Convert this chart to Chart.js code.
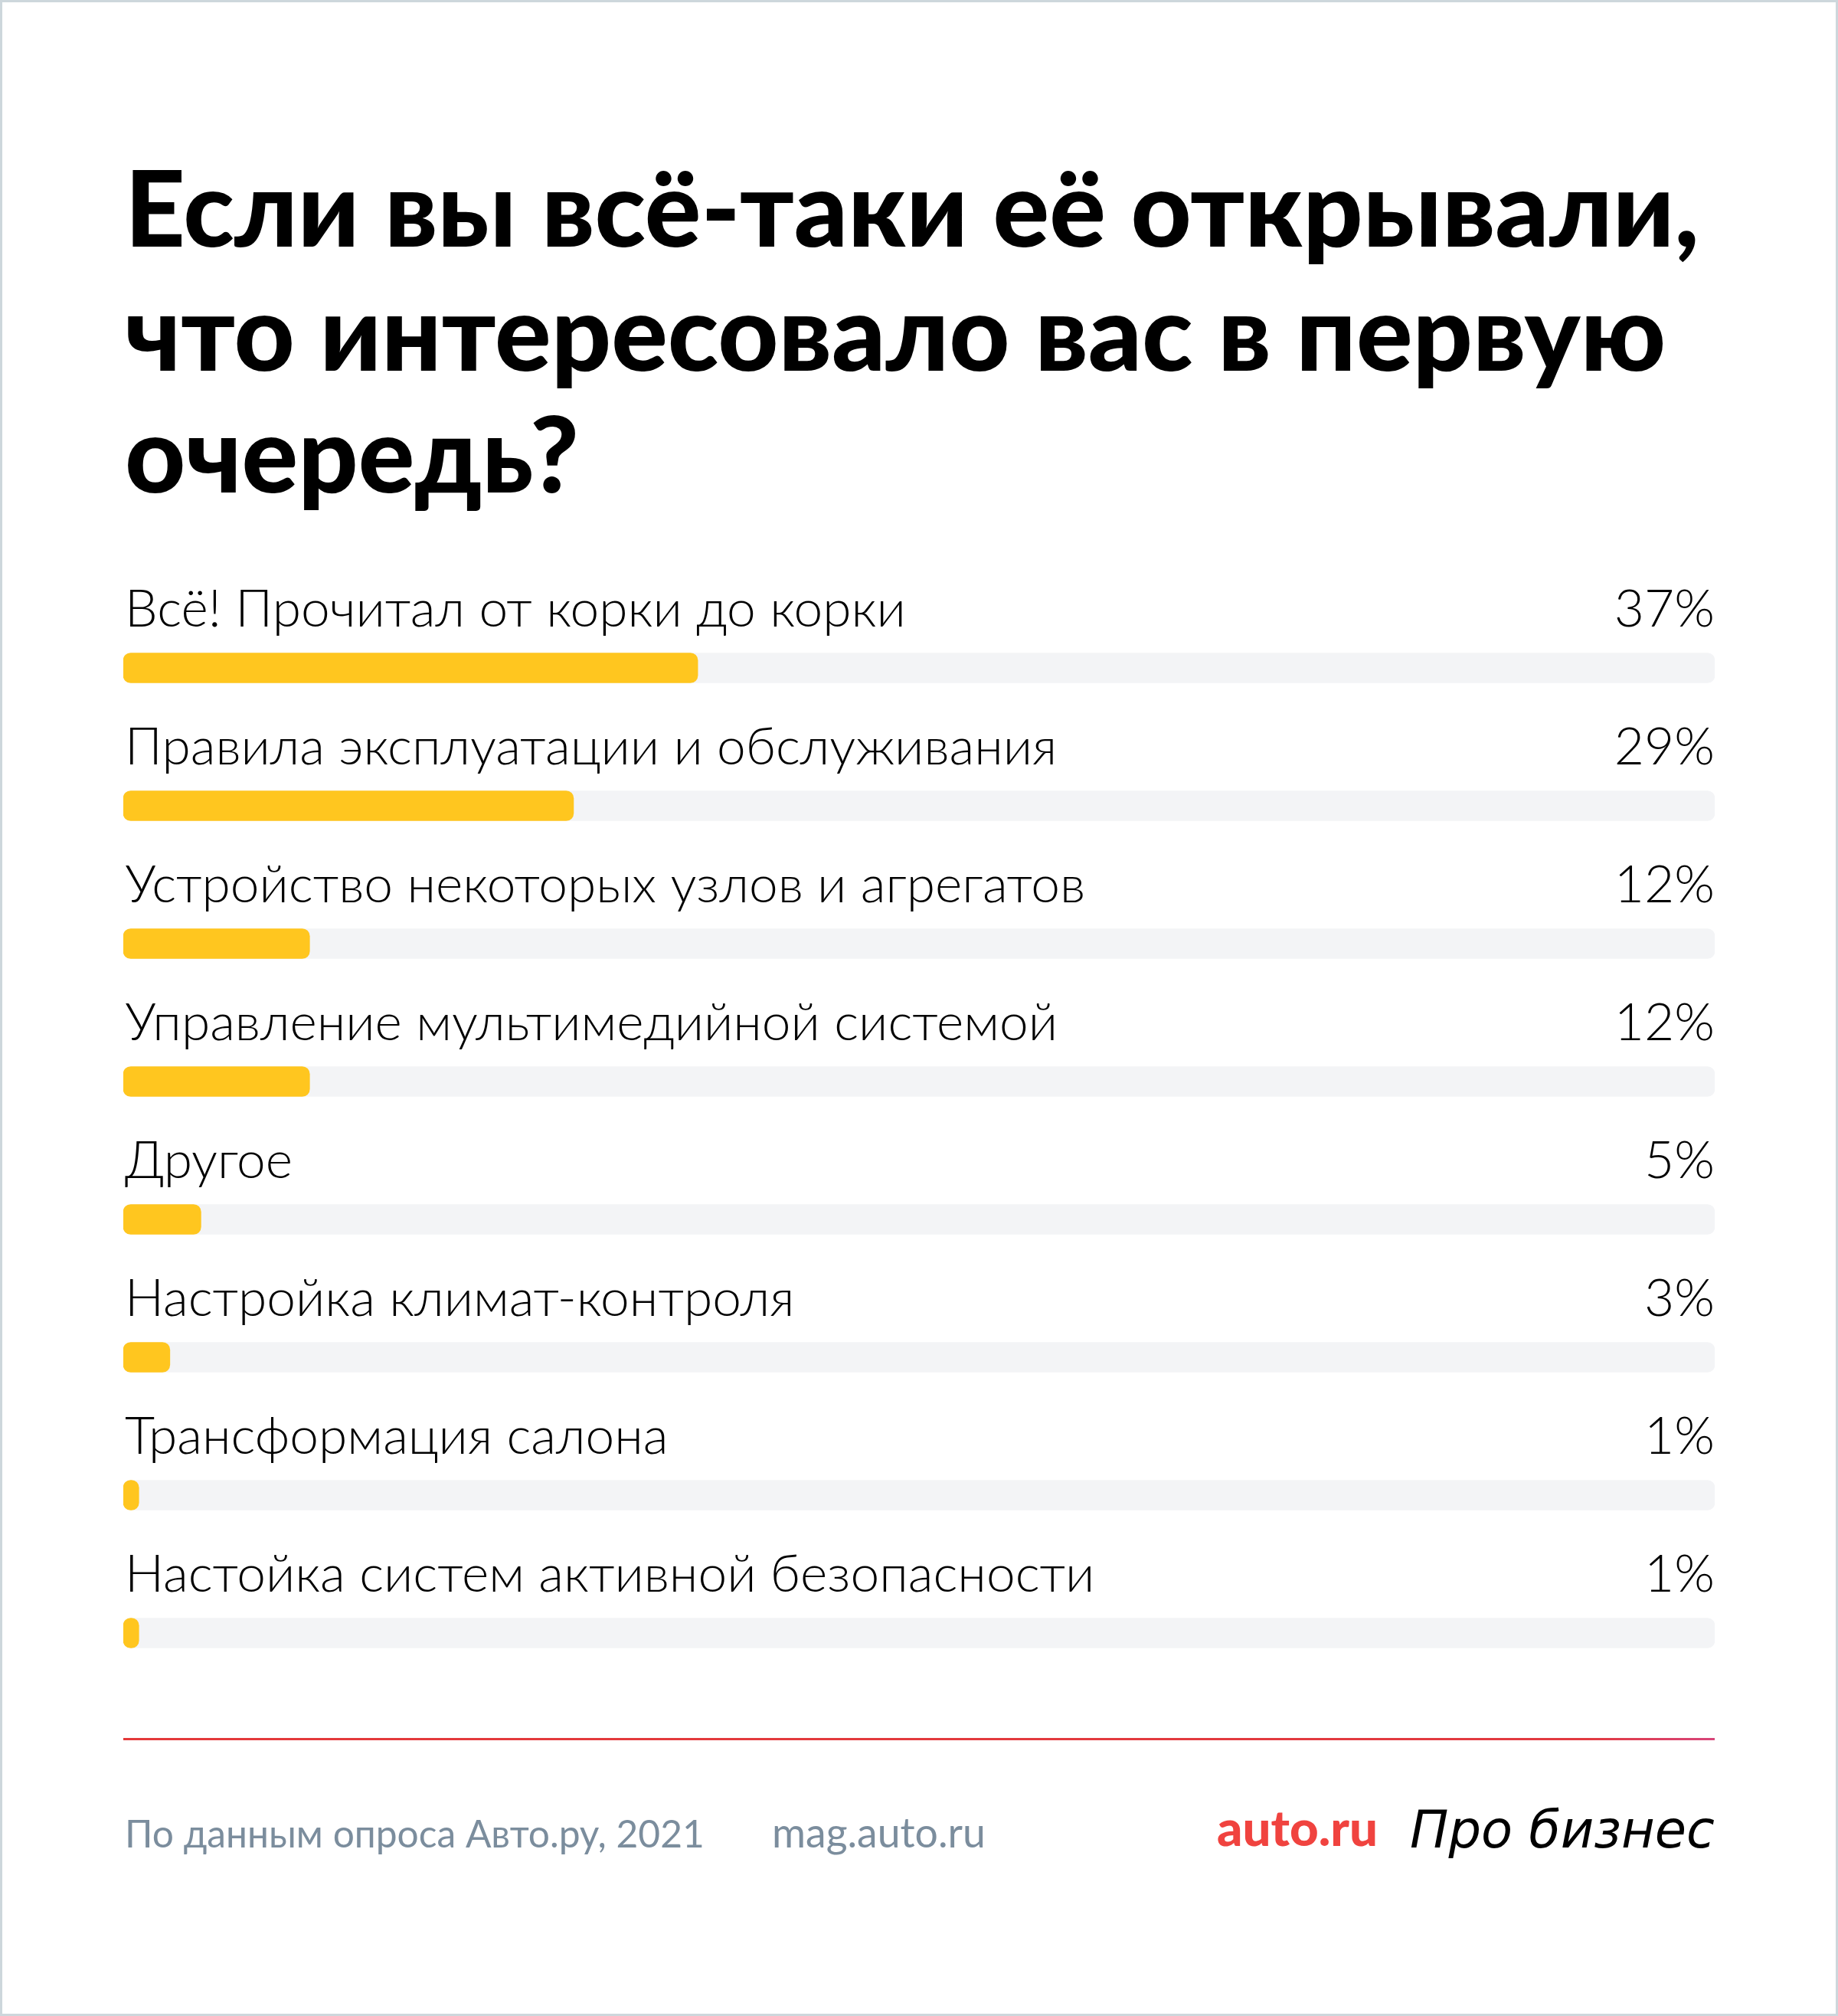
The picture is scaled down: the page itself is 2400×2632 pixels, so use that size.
<!DOCTYPE html>
<html><head><meta charset="utf-8">
<script src="https://cdn.jsdelivr.net/npm/chart.js@4.4.1/dist/chart.umd.min.js"></script>
<style>
html,body{margin:0;padding:0;background:#fff}
#page{position:relative;width:2400px;height:2632px;overflow:hidden;background:#fff}
.frame{position:absolute;left:0;top:0;right:0;bottom:0;border:3px solid #cdd7dc;box-sizing:border-box;pointer-events:none;z-index:10}
.t{position:absolute;white-space:nowrap;line-height:1;margin:0}
.title{font-family:Lato,sans-serif;font-weight:900;color:#000;font-size:120px}
.foot{font-family:Lato,sans-serif;font-weight:400;color:#7b8d9d;font-size:48px}
.auto{font-family:Lato,sans-serif;font-weight:900;color:#f0433f;font-size:60px}
.logo{font-family:"DejaVu Sans",sans-serif;font-style:italic;font-weight:400;color:#000;font-size:60px}
#chartBox{position:absolute;left:0;top:682px;width:2400px;height:1580px}
.rule{position:absolute;left:161px;top:2269px;width:2078px;height:3px;background:linear-gradient(to right,#e4393a 0%,#e23a40 92%,#d8457a 100%)}
</style></head>
<body>
<div id="page">
  <div class="t title" id="t1" data-x="163" data-base="322" data-w="2056">Если вы всё-таки её открывали,</div>
  <div class="t title" id="t2" data-x="163" data-base="484" data-same="t1">что интересовало вас в первую</div>
  <div class="t title" id="t3" data-x="163" data-base="643" data-same="t1">очередь?</div>
  <div id="chartBox"><canvas id="c" width="2400" height="1580"></canvas></div>
  <div class="rule"></div>
  <div class="t foot" id="f1" data-x="163" data-base="2412" data-w="757">По данным опроса Авто.ру, 2021</div>
  <div class="t foot" id="f2" data-x="1008" data-base="2412" data-w="279">mag.auto.ru</div>
  <div class="t auto" id="f3" data-x="1589" data-base="2410" data-w="210">auto.ru</div>
  <div class="t logo" id="f4" data-x="1841" data-base="2412" data-w="398">Про бизнес</div>
  <div class="frame"></div>
</div>
<script>
// ---- data ----
const categories = [
  "Всё! Прочитал от корки до корки",
  "Правила эксплуатации и обслуживания",
  "Устройство некоторых узлов и агрегатов",
  "Управление мультимедийной системой",
  "Другое",
  "Настройка климат-контроля",
  "Трансформация салона",
  "Настойка систем активной безопасности"
];
const shares = [37, 29, 12, 12, 5, 3, 1, 1];
const percentLabels = ["37%", "29%", "12%", "12%", "5%", "3%", "1%", "1%"];

// ---- layout helpers ----
const page = document.getElementById('page');
function placeAll(){
  const els = Array.from(document.querySelectorAll('.t'));
  els.forEach(el=>{
    if(el.dataset.w){
      const fs = parseFloat(getComputedStyle(el).fontSize);
      const w = el.getBoundingClientRect().width;
      el.style.fontSize = (fs * (+el.dataset.w) / w) + 'px';
    }
  });
  els.forEach(el=>{
    if(el.dataset.same){
      el.style.fontSize = document.getElementById(el.dataset.same).style.fontSize;
    }
  });
  els.forEach(el=>{
    const m = document.createElement('span');
    m.style.cssText = 'display:inline-block;width:0;height:0;vertical-align:baseline';
    el.appendChild(m);
    el.style.top = '0px';
    el.style.left = el.dataset.x + 'px';
    const pr = page.getBoundingClientRect();
    const b = m.getBoundingClientRect().bottom - pr.top;
    el.style.top = (+el.dataset.base - b) + 'px';
  });
}

// ---- chart ----
const AXIS_MAX = 102.5;
const trackValues = categories.map(() => AXIS_MAX);
const LABEL_FIT_W = 1020;
const LABEL_WEIGHT = 300;

const rowLabels = {
  id: 'rowLabels',
  afterDatasetsDraw(chart){
    const {ctx, chartArea, scales:{y}} = chart;
    ctx.save();
    ctx.font = LABEL_WEIGHT + ' 100px Lato';
    const fs = 100 * LABEL_FIT_W / ctx.measureText(categories[0]).width;
    ctx.font = LABEL_WEIGHT + ' ' + fs + 'px Lato';
    ctx.fillStyle = '#000';
    ctx.textBaseline = 'alphabetic';
    categories.forEach((c, i) => {
      const base = y.getPixelForValue(i) - 54;
      ctx.textAlign = 'left';
      ctx.fillText(c, chartArea.left + 2, base);
      ctx.textAlign = 'right';
      ctx.fillText(percentLabels[i], chartArea.right, base);
    });
    ctx.restore();
  }
};

function buildChart(){
  new Chart(document.getElementById('c'), {
    type: 'bar',
    data: {
      labels: categories,
      datasets: [
        {data: shares, backgroundColor: '#ffc61f', borderRadius: 10, borderSkipped: false,
         barThickness: 39, grouped: false, order: 1},
        {data: trackValues, backgroundColor: '#f3f4f6', borderRadius: 10, borderSkipped: false,
         barThickness: 39, grouped: false, order: 2}
      ]
    },
    options: {
      indexAxis: 'y',
      responsive: false,
      devicePixelRatio: 1,
      animation: false,
      layout: {padding: {left: 161, right: 161, top: 100, bottom: 40}},
      scales: {
        x: {min: 0, max: AXIS_MAX, display: false},
        y: {display: false}
      },
      plugins: {legend: {display: false}, tooltip: {enabled: false}}
    },
    plugins: [rowLabels]
  });
}

(document.fonts ? document.fonts.ready : Promise.resolve()).then(()=>{
  placeAll();
  buildChart();
});
</script>
</body></html>
